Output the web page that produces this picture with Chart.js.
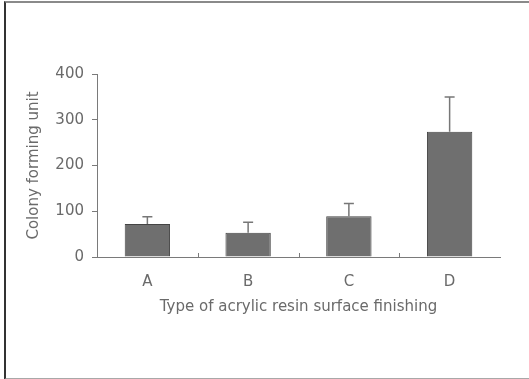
<!DOCTYPE html>
<html>
<head>
<meta charset="utf-8">
<script src="https://cdn.jsdelivr.net/npm/chart.js@4/dist/chart.umd.min.js"></script>
<style>
html,body{margin:0;padding:0;background:#fff;width:529px;height:379px;overflow:hidden;}
#wrap{position:absolute;left:0;top:0;width:529px;height:379px;}
#frame{position:absolute;left:4px;top:1px;width:523px;height:375px;border-top:2px solid #8a8a8a;border-left:2px solid #333;border-bottom:2px solid #a8a8a8;box-sizing:content-box;pointer-events:none;}
</style>
</head>
<body>
<div id="wrap"><canvas id="c" width="529" height="379"></canvas></div>
<div id="frame"></div>
<script>
const categories = ["A", "B", "C", "D"];
const cfuMeans = [72, 53, 89, 274];
const cfuErrors = [16, 23, 28, 76];
const yTicks = [0, 100, 200, 300, 400];
const xTitle = "Type of acrylic resin surface finishing";
const yTitle = "Colony forming unit";

const FONT = "'DejaVu Sans', 'Liberation Sans', sans-serif";
const TEXT = "#6a6a6a";
const AXIS = "#7a7a7a";

const errorBars = {
  id: "errorBars",
  afterDatasetsDraw(chart) {
    const ctx = chart.ctx;
    const meta = chart.getDatasetMeta(0);
    const y = chart.scales.y;
    ctx.save();
    ctx.strokeStyle = "#777";
    ctx.lineWidth = 1.5;
    meta.data.forEach((bar, i) => {
      const top = y.getPixelForValue(cfuMeans[i] + cfuErrors[i]);
      const base = y.getPixelForValue(cfuMeans[i]);
      ctx.beginPath();
      ctx.moveTo(bar.x, base);
      ctx.lineTo(bar.x, top);
      ctx.moveTo(bar.x - 5, top);
      ctx.lineTo(bar.x + 5, top);
      ctx.stroke();
    });
    ctx.restore();
  }
};

const innerTicks = {
  id: "innerTicks",
  afterDraw(chart) {
    const ctx = chart.ctx;
    const x = chart.scales.x;
    const bottom = chart.chartArea.bottom;
    ctx.save();
    ctx.strokeStyle = AXIS;
    ctx.lineWidth = 1;
    for (let i = 1; i < categories.length; i++) {
      const px = Math.round((x.getPixelForValue(i - 1) + x.getPixelForValue(i)) / 2) + 0.5;
      ctx.beginPath();
      ctx.moveTo(px, bottom);
      ctx.lineTo(px, bottom - 4);
      ctx.stroke();
    }
    ctx.restore();
  }
};

new Chart(document.getElementById("c"), {
  type: "bar",
  data: {
    labels: categories,
    datasets: [{
      data: cfuMeans,
      backgroundColor: "#6f6f6f",
      borderColor: "#444",
      borderWidth: 1,
      barPercentage: 0.45,
      categoryPercentage: 1
    }]
  },
  options: {
    responsive: false,
    animation: false,
    devicePixelRatio: 1,
    layout: { padding: { left: 0, top: 74, right: 29, bottom: 63 } },
    plugins: { legend: { display: false }, tooltip: { enabled: false } },
    scales: {
      x: {
        grid: { display: false },
        border: { display: true, color: AXIS, width: 1 },
        ticks: { color: TEXT, font: { family: FONT, size: 15 }, padding: 8 },
        title: { display: true, text: xTitle, color: TEXT, font: { family: FONT, size: 15 }, padding: { top: 2, bottom: 0 } },
        afterFit(s) { s.height = 59; }
      },
      y: {
        min: 0, max: 400,
        afterBuildTicks(s) { s.ticks = yTicks.map(v => ({ value: v })); },
        grid: { drawOnChartArea: false, drawTicks: true, tickLength: 5, color: AXIS },
        border: { display: true, color: AXIS, width: 1 },
        ticks: { color: TEXT, font: { family: FONT, size: 15 }, padding: 8 },
        title: { display: true, text: yTitle, color: TEXT, font: { family: FONT, size: 15 }, padding: { top: 25, bottom: 0 } },
        afterFit(s) { s.width = 97; }
      }
    }
  },
  plugins: [errorBars, innerTicks]
});
</script>
</body>
</html>
